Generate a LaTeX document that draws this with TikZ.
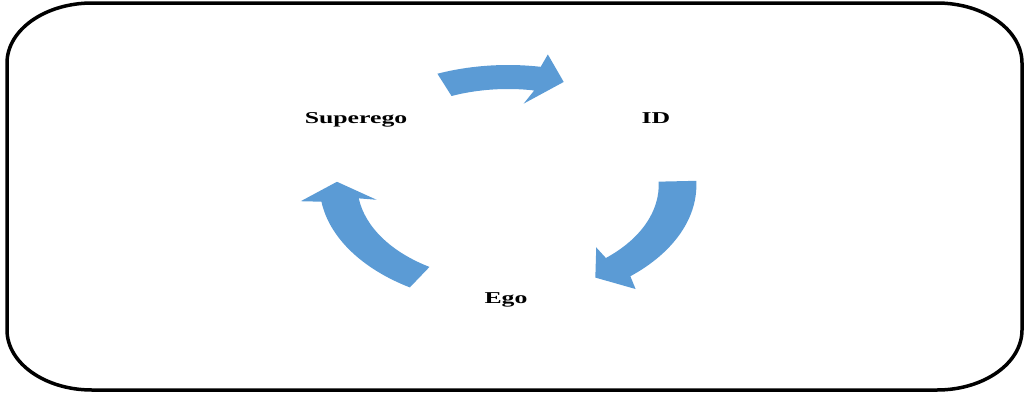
\documentclass[tikz,border=0pt]{standalone}
\usepackage{fontspec}
\setmainfont{Liberation Serif}
\definecolor{cycleblue}{HTML}{5B9BD5}
\newcommand{\stretchtext}[1]{\scalebox{1.55}[1]{#1}}

\begin{document}
\begin{tikzpicture}[x=1pt, y=-1pt,
  panel/.style={line width=3.5pt},
  cyclearrow/.style={fill=cycleblue},
  lbl/.style={font=\fontsize{16.6}{20}\selectfont\bfseries, anchor=base, inner sep=0pt}]
\useasboundingbox (0,0) rectangle (1031,394);
\draw[panel] (92,3) -- (937,3) arc[start angle=90, end angle=0, x radius=85pt, y radius=60pt]
  -- (1022,330) arc[start angle=0, end angle=-90, x radius=85pt, y radius=60pt]
  -- (92,390) arc[start angle=270, end angle=180, x radius=85pt, y radius=60pt]
  -- (7,63) arc[start angle=180, end angle=90, x radius=85pt, y radius=60pt] -- cycle;
\node[lbl] (superego) at (356,123) {\stretchtext{Superego}};
\node[lbl] (id) at (656,123) {\stretchtext{ID}};
\node[lbl] (ego) at (506,303) {\stretchtext{Ego}};
\coordinate (hub) at (508,185);
\begin{scope}[shift={(hub)}, xscale=1.57]
\fill[cyclearrow] (112:120pt) arc[start angle=112, end angle=80, radius=120pt] -- (79:133pt) -- (71:109pt)
  -- (83:82pt) -- (80:96pt) arc[start angle=80, end angle=112, radius=96pt] -- cycle;
\fill[cyclearrow] (2:120pt) arc[start angle=2, end angle=-49.5, radius=120pt] -- (-52:132pt) -- (-59:108pt)
  -- (-48:84pt) -- (-49.5:96pt) arc[start angle=-49.5, end angle=2, radius=96pt] -- cycle;
\fill[cyclearrow] (238.6:120pt) arc[start angle=238.6, end angle=188, radius=120pt] -- (187:133pt) -- (178.3:109pt)
  -- (190:85pt) -- (188:96pt) arc[start angle=188, end angle=238.6, radius=96pt] -- cycle;
\end{scope}
\end{tikzpicture}
\end{document}
